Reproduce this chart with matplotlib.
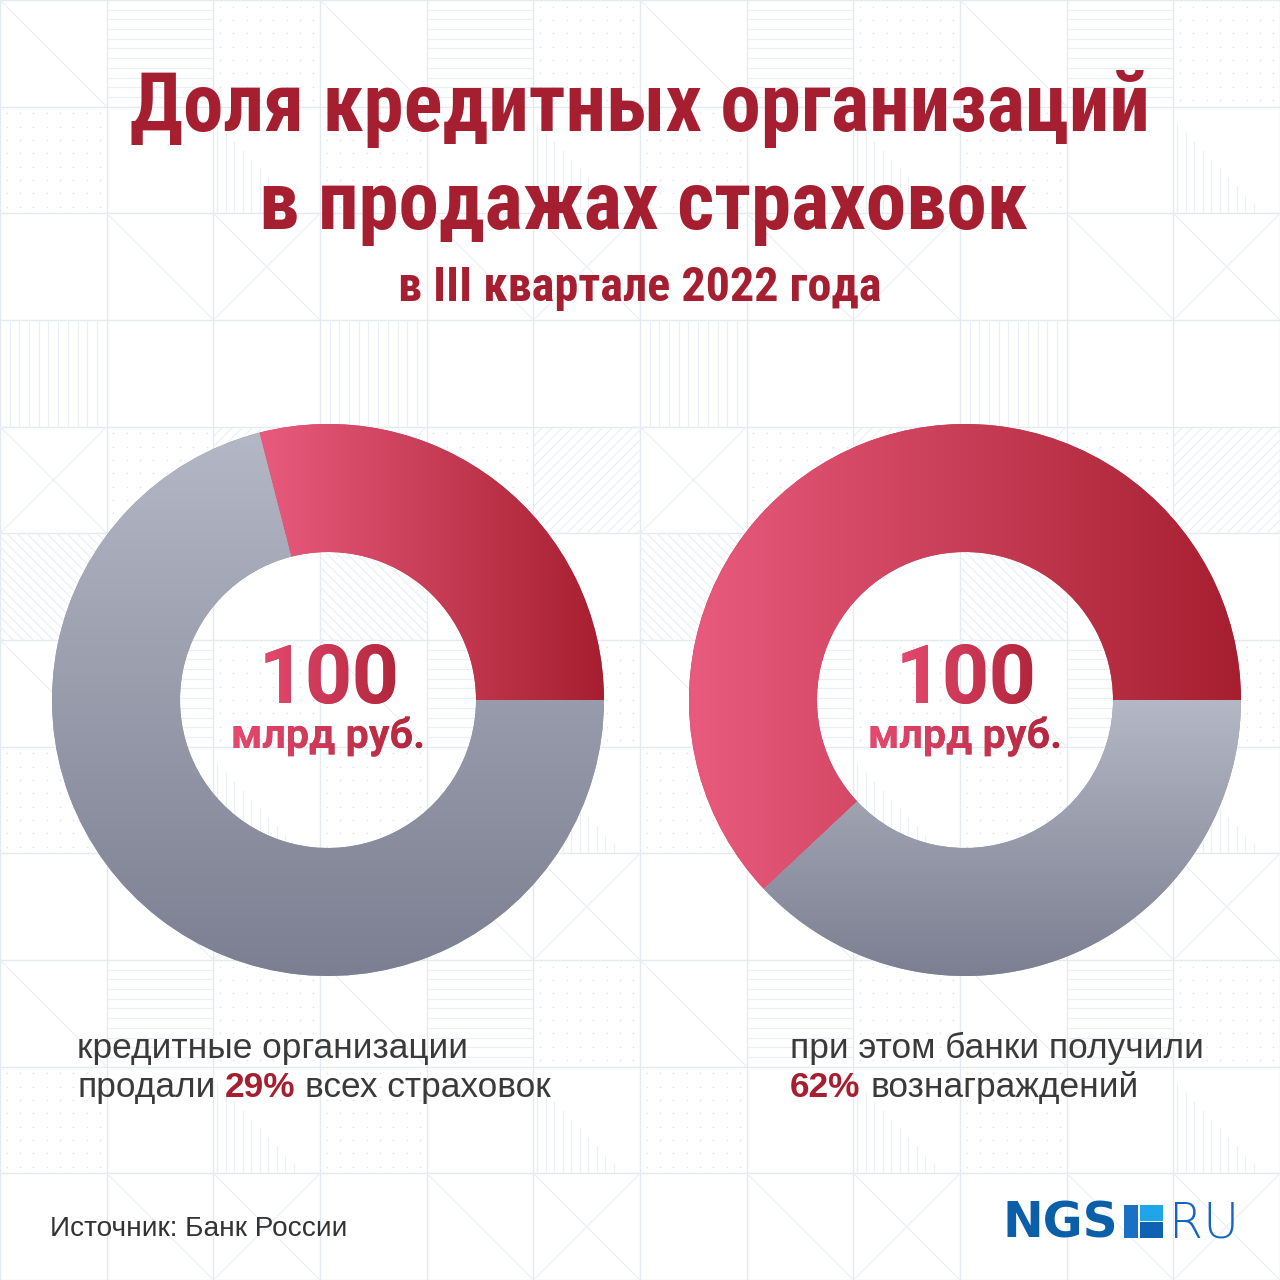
import matplotlib
matplotlib.use("Agg")
import matplotlib.pyplot as plt
import numpy as np
from matplotlib import font_manager
from matplotlib.collections import LineCollection
from matplotlib.patches import Rectangle, PathPatch
from matplotlib.colors import LinearSegmentedColormap
from matplotlib.textpath import TextPath
from matplotlib.font_manager import FontProperties
from matplotlib.transforms import Affine2D

# ---------------- data ----------------
title_lines = ["Доля кредитных организаций", "в продажах страховок"]
subtitle = "в III квартале 2022 года"
segment_names = ["кредитные организации", "прочие"]
sales_share = [29, 71]      # % of all insurance policies sold
fees_share = [62, 38]       # % of all commissions received
center_values = [100, 100]  # млрд руб.
center_unit = "млрд руб."
caption_left_1 = "кредитные организации"
caption_left_2 = ("продали", "всех страховок")
caption_right_1 = "при этом банки получили"
caption_right_2 = ("", "вознаграждений")
source_text = "Источник: Банк России"
logo_parts = ("NGS", "RU")

# ---------------- fonts ----------------
flist = font_manager.fontManager.ttflist
available = {f.name for f in flist}


def pick(*names):
    for n in names:
        if n in available:
            return n
    return "DejaVu Sans"


F_TITLE = pick("Roboto Condensed", "Open Sans Condensed", "Liberation Sans Narrow", "PT Sans Narrow", "Noto Sans")
F_CENTER = pick("Roboto", "Open Sans", "DejaVu Sans")
F_BODY = pick("Liberation Sans", "Roboto", "DejaVu Sans")
F_LOGO = "DejaVu Sans"
if any(f.name == "DejaVu Sans" and f.weight in (200, "extra light", "ultralight") for f in flist):
    F_RU, W_RU = "DejaVu Sans", 200
else:
    F_RU, W_RU = pick("Open Sans", "Roboto", "Liberation Sans"), "light"

RED = "#a61f30"
GREY_TXT = "#3a3a3a"

W = H = 1280
DPI = 100
fig = plt.figure(figsize=(12.8, 12.8), dpi=DPI)
fig.patch.set_facecolor("white")
ax = fig.add_axes([0, 0, 1, 1])
ax.set_axis_off()
renderer = fig.canvas.get_renderer()


def set_limits():
    ax.set_aspect("auto")
    ax.set_xlim(0, W)
    ax.set_ylim(H, 0)


# ---------------- background pattern ----------------
cell = W / 12.0
grid_col = "#e4eaf2"
pat_col = "#ebf0f6"
grid_segs = []
for k in range(13):
    grid_segs.append([(k * cell, 0), (k * cell, H)])
    grid_segs.append([(0, k * cell), (W, k * cell)])
ax.add_collection(LineCollection(grid_segs, colors=grid_col, linewidths=1.0, zorder=0))

blockA = {(0, 0): "diag", (0, 1): "hlines", (0, 2): "dots",
          (1, 0): "dots", (1, 1): "blank", (1, 2): "vstair",
          (2, 0): "blank", (2, 1): "diag", (2, 2): "X"}
blockB = {(0, 0): "vlines", (0, 1): "blank", (0, 2): "blank",
          (1, 0): "X", (1, 1): "dots", (1, 2): "hatch/",
          (2, 0): "hatch\\", (2, 1): "blank", (2, 2): "blank"}

pat_segs = []
dots_x, dots_y = [], []
for r in range(12):
    for c in range(12):
        block = blockB if 3 <= r <= 5 else blockA
        kind = block[(r % 3, c % 3)]
        x0, y0 = c * cell, r * cell
        if kind in ("diag", "X"):
            pat_segs.append([(x0, y0), (x0 + cell, y0 + cell)])
        if kind == "X":
            pat_segs.append([(x0 + cell, y0), (x0, y0 + cell)])
        if kind == "hlines":
            for k in range(1, 11):
                yy = y0 + k * cell / 11
                pat_segs.append([(x0, yy), (x0 + cell, yy)])
        if kind == "vlines":
            for k in range(1, 11):
                xx = x0 + k * cell / 11
                pat_segs.append([(xx, y0), (xx, y0 + cell)])
        if kind == "vstair":
            for k in range(10):
                xx = x0 + 4 + k * 8.5
                hh = cell * (0.85 - k * 0.085)
                pat_segs.append([(xx, y0 + cell), (xx, y0 + cell - hh)])
        if kind == "dots":
            for i in range(8):
                for j in range(8):
                    dots_x.append(x0 + (i + 0.5) * cell / 8)
                    dots_y.append(y0 + (j + 0.5) * cell / 8)
        if kind in ("hatch/", "hatch\\"):
            sp = 10.0
            d = sp
            while d < 2 * cell:
                if d <= cell:
                    p1, p2 = (x0, y0 + d), (x0 + d, y0)
                else:
                    p1, p2 = (x0 + d - cell, y0 + cell), (x0 + cell, y0 + d - cell)
                if kind == "hatch\\":
                    p1 = (2 * x0 + cell - p1[0], p1[1])
                    p2 = (2 * x0 + cell - p2[0], p2[1])
                pat_segs.append([p1, p2])
                d += sp
ax.add_collection(LineCollection(pat_segs, colors=pat_col, linewidths=0.9, zorder=0))
ax.scatter(dots_x, dots_y, s=1.5, color="#dfe5ec", linewidths=0, zorder=0)

# ---------------- donuts ----------------
R_OUT, RING = 276, 128
centers = [(328, 700), (965, 700)]
red_cmap = LinearSegmentedColormap.from_list("red", ["#e95b7e", "#a61f2f"])
grey_cmap = LinearSegmentedColormap.from_list("grey", ["#b4b7c4", "#7c7f91"])


def gradient_image(x0, x1, y0, y1, cmap, horizontal, clip, z):
    g = np.linspace(0, 1, 256)
    arr = g[None, :] if horizontal else g[:, None]
    im = ax.imshow(arr, cmap=cmap, extent=(x0, x1, y1, y0), origin="upper",
                   aspect="auto", interpolation="bilinear", zorder=z)
    im.set_clip_path(clip)
    return im


for values, ctr in zip([sales_share, fees_share], centers):
    wedges, _ = ax.pie(values, startangle=0, counterclock=False, radius=R_OUT, center=ctr,
                       colors=["#c8364f", "#9a9dab"],
                       wedgeprops=dict(width=RING, edgecolor="none", linewidth=0))
    for wdg, cmap, horiz in ((wedges[0], red_cmap, True), (wedges[1], grey_cmap, False)):
        e = wdg.get_path().get_extents()
        wdg.set_facecolor(cmap(0.5))
        gradient_image(e.x0, e.x1, e.y0, e.y1, cmap, horiz, wdg, 2)

set_limits()


# ---------------- text helpers ----------------
def width_of(t):
    return t.get_window_extent(renderer).width


def fit(t, target_w):
    t.set_fontsize(t.get_fontsize() * target_w / width_of(t))
    return t


def space_w(family, size, weight="normal"):
    a = ax.text(0, 0, "нн", fontsize=size, family=family, weight=weight)
    b = ax.text(0, 0, "н н", fontsize=size, family=family, weight=weight)
    w = width_of(b) - width_of(a)
    a.remove(); b.remove()
    return w


text_cmap = LinearSegmentedColormap.from_list("txt", ["#e64a70", "#b0253a"])


def gradient_text(t, baseline):
    """Overlay a horizontal gradient on a real text artist, clipped to its glyph outlines."""
    set_limits()
    bb = t.get_window_extent(renderer).transformed(ax.transData.inverted())
    left, right = min(bb.x0, bb.x1), max(bb.x0, bb.x1)
    fp = FontProperties(family=t.get_fontfamily(), weight=t.get_fontweight())
    tp = TextPath((0, 0), t.get_text(), size=t.get_fontsize() * DPI / 72.0, prop=fp)
    pe = tp.get_extents()
    tr = Affine2D().scale(1, -1).translate(left, baseline)
    patch = PathPatch(tp, transform=tr + ax.transData)
    y_top = baseline - pe.y1
    y_bot = baseline - pe.y0
    gradient_image(left - 2, right + 2, y_top - 2, y_bot + 2, text_cmap, True, patch, 6)
    set_limits()


# title
t1 = ax.text(640, 131, title_lines[0], ha="center", va="baseline", family=F_TITLE,
             weight="bold", color=RED, fontsize=60, zorder=5)
fit(t1, 1020)
t2 = ax.text(643, 229, title_lines[1], ha="center", va="baseline", family=F_TITLE,
             weight="bold", color=RED, fontsize=t1.get_fontsize(), zorder=5)
t3 = ax.text(640, 301, subtitle, ha="center", va="baseline", family=F_TITLE,
             weight="bold", color=RED, fontsize=30, zorder=5)
fit(t3, 484)

# center labels
for ctr, val in zip(centers, center_values):
    a = ax.text(ctr[0] + 1, 703, f"{val}", ha="center", va="baseline", family=F_CENTER,
                weight="bold", color="#c7334f", fontsize=56, zorder=5)
    fit(a, 140)
    gradient_text(a, 703)
    b = ax.text(ctr[0], 748, center_unit, ha="center", va="baseline", family=F_CENTER,
                weight="bold", color="#cd3a57", fontsize=28, zorder=5)
    fit(b, 194)
    gradient_text(b, 748)

# captions
c1 = ax.text(77, 1058, caption_left_1, ha="left", va="baseline", family=F_BODY,
             color=GREY_TXT, fontsize=24, zorder=5)
fit(c1, 391)
bs = c1.get_fontsize()
sp = space_w(F_BODY, bs)


def run_line(x, y, runs):
    for s, color, weight in runs:
        if not s:
            continue
        t = ax.text(x, y, s, ha="left", va="baseline", family=F_BODY, color=color,
                    weight=weight, fontsize=bs, zorder=5)
        x += width_of(t) + sp


run_line(77, 1097, [(caption_left_2[0], GREY_TXT, "normal"),
                    (f"{sales_share[0]}%", RED, "bold"),
                    (caption_left_2[1], GREY_TXT, "normal")])
ax.text(790, 1058, caption_right_1, ha="left", va="baseline", family=F_BODY,
        color=GREY_TXT, fontsize=bs, zorder=5)
run_line(790, 1097, [(caption_right_2[0], GREY_TXT, "normal"),
                     (f"{fees_share[0]}%", RED, "bold"),
                     (caption_right_2[1], GREY_TXT, "normal")])

# source
s1 = ax.text(50, 1236, source_text, ha="left", va="baseline", family=F_BODY,
             color="#333333", fontsize=19, zorder=5)
fit(s1, 298)

# logo
ax.text(1118, 1238, logo_parts[0], ha="right", va="baseline", family=F_LOGO, weight="bold",
        color="#0b5ea8", fontsize=35, zorder=5)
ax.add_patch(Rectangle((1124, 1205), 14, 33, color="#1b70c4", zorder=5, lw=0))
ax.add_patch(Rectangle((1140, 1205), 23, 16, color="#1fa6ea", zorder=5, lw=0))
ax.add_patch(Rectangle((1140, 1222), 23, 16, color="#0f62b2", zorder=5, lw=0))
ru = ax.text(1169, 1238, logo_parts[1], ha="left", va="baseline", family=F_RU, weight=W_RU,
             color="#1565c0", fontsize=31, zorder=5)
fit(ru, 70)

set_limits()
fig.savefig("out.png", dpi=DPI, facecolor="white")
